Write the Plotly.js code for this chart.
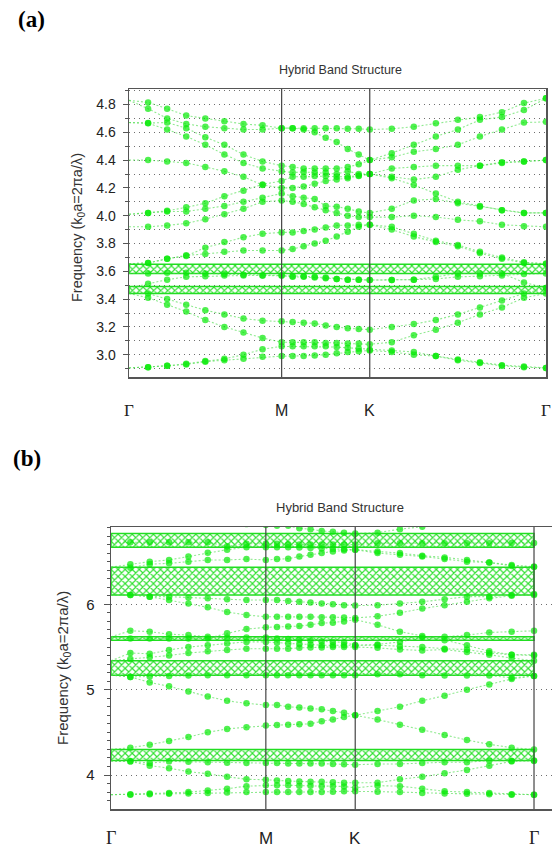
<!DOCTYPE html>
<html><head><meta charset="utf-8">
<script src="https://cdn.plot.ly/plotly-3.0.1.min.js"></script>
<style>html,body{margin:0;padding:0;overflow:hidden;background:#fff}</style>
</head><body>
<div id="chart" style="width:552px;height:851px"></div>
<script>
// ---- k-path (Γ → M → K → Γ), 8 steps per segment ----
const kTickLabels = ['Γ', 'M', 'K', 'Γ'];
const kTickPos = [0, 0.5774, 0.9107, 1.5774];
const kPos = [0, 0.0722, 0.1443, 0.2165, 0.2887, 0.3608, 0.4330, 0.5052, 0.5774,
  0.6190, 0.6607, 0.7024, 0.7440, 0.7857, 0.8274, 0.8690, 0.9107,
  0.9940, 1.0774, 1.1607, 1.2440, 1.3274, 1.4107, 1.4940, 1.5774];

// ---- panel (a) band gaps and bands ----
const gapsA = [[3.44, 3.49], [3.585, 3.65]];
const bandA1 = [2.905,2.91,2.92,2.93,2.95,2.96,2.97,2.985,2.99, 2.99,2.99,2.995,3.0,3.01,3.02,3.025,3.03, 3.02,3.0,2.99,2.96,2.94,2.92,2.91,2.905];
const bandA2 = [2.905,2.91,2.92,2.935,2.955,2.97,3.0,3.04,3.06, 3.06,3.06,3.06,3.06,3.055,3.05,3.045,3.035, 3.03,3.02,2.99,2.965,2.945,2.925,2.915,2.905];
const bandA3 = [3.44,3.41,3.36,3.31,3.25,3.20,3.16,3.12,3.09, 3.09,3.09,3.09,3.085,3.085,3.08,3.08,3.075, 3.09,3.14,3.18,3.23,3.29,3.34,3.41,3.44];
const bandA4 = [3.45,3.44,3.40,3.36,3.32,3.29,3.26,3.245,3.24, 3.235,3.23,3.225,3.21,3.20,3.19,3.185,3.18, 3.20,3.22,3.25,3.29,3.34,3.39,3.44,3.48];
const bandA5 = [3.585,3.585,3.59,3.59,3.585,3.58,3.575,3.57,3.57, 3.56,3.56,3.555,3.55,3.545,3.54,3.54,3.537, 3.537,3.54,3.545,3.56,3.565,3.57,3.58,3.585];
const bandA6 = [3.48,3.51,3.54,3.56,3.565,3.57,3.57,3.57,3.57, 3.565,3.565,3.56,3.555,3.545,3.54,3.54,3.537, 3.537,3.54,3.56,3.585,3.585,3.585,3.52,3.48];
const bandA7 = [3.655,3.66,3.69,3.715,3.725,3.74,3.75,3.75,3.75, 3.76,3.78,3.80,3.82,3.85,3.885,3.92,3.935, 3.90,3.85,3.81,3.78,3.73,3.69,3.66,3.655];
const bandA8 = [3.655,3.66,3.69,3.71,3.77,3.81,3.845,3.87,3.88, 3.88,3.89,3.90,3.915,3.93,3.93,3.935,3.935, 3.92,3.87,3.82,3.79,3.74,3.70,3.665,3.655];
const bandA9 = [3.92,3.92,3.93,3.945,3.975,4.01,4.05,4.10,4.11, 4.10,4.085,4.06,4.04,4.02,4.00,3.99,3.99, 3.99,4.0,3.99,3.97,3.96,3.935,3.925,3.92];
const bandA10 = [4.01,4.02,4.03,4.03,4.05,4.07,4.10,4.13,4.16, 4.14,4.13,4.12,4.07,4.065,4.05,4.03,4.02, 4.05,4.11,4.12,4.09,4.065,4.04,4.02,4.02];
const bandA11 = [4.01,4.02,4.035,4.06,4.09,4.14,4.18,4.225,4.25, 4.28,4.28,4.285,4.285,4.28,4.28,4.29,4.30, 4.27,4.22,4.16,4.10,4.07,4.04,4.02,4.02];
const bandA12 = [4.40,4.40,4.39,4.38,4.35,4.32,4.28,4.22,4.20, 4.20,4.21,4.23,4.25,4.26,4.27,4.285,4.30, 4.28,4.26,4.28,4.33,4.36,4.385,4.39,4.40];
const bandA13 = [4.67,4.667,4.67,4.63,4.565,4.51,4.44,4.39,4.36, 4.35,4.34,4.34,4.34,4.34,4.35,4.37,4.40, 4.42,4.46,4.48,4.51,4.57,4.62,4.67,4.675];
const bandA14 = [4.67,4.665,4.62,4.57,4.51,4.44,4.38,4.34,4.32, 4.31,4.315,4.31,4.31,4.30,4.32,4.30,4.30, 4.34,4.35,4.36,4.36,4.36,4.38,4.39,4.40];
const bandA15 = [4.83,4.815,4.77,4.72,4.70,4.68,4.66,4.65,4.63, 4.63,4.63,4.63,4.63,4.63,4.625,4.625,4.62, 4.625,4.64,4.665,4.69,4.71,4.745,4.81,4.845];
const bandA16 = [4.83,4.77,4.70,4.66,4.64,4.63,4.62,4.62,4.63, 4.63,4.62,4.60,4.56,4.53,4.48,4.44,4.40, 4.45,4.51,4.57,4.62,4.69,4.71,4.76,4.845];

// ---- panel (b) band gaps and bands ----
const gapsB = [[4.17, 4.30], [5.17, 5.34], [5.58, 5.62], [6.11, 6.435], [6.67, 6.83]];
const bandB1 = [3.77,3.77,3.775,3.78,3.785,3.79,3.795,3.80,3.80, 3.80,3.80,3.80,3.80,3.80,3.805,3.81,3.81, 3.805,3.80,3.79,3.785,3.78,3.775,3.77,3.77];
const bandB2 = [3.77,3.775,3.785,3.79,3.80,3.82,3.84,3.87,3.88, 3.88,3.88,3.875,3.875,3.87,3.87,3.865,3.85, 3.875,3.87,3.84,3.81,3.80,3.79,3.775,3.77];
const bandB3 = [4.165,4.16,4.11,4.08,4.04,4.015,3.98,3.95,3.945, 3.935,3.93,3.925,3.92,3.92,3.915,3.91,3.91, 3.91,3.95,3.98,4.02,4.06,4.11,4.16,4.17];
const bandB4 = [4.165,4.16,4.14,4.16,4.155,4.15,4.145,4.14,4.14, 4.14,4.135,4.135,4.135,4.135,4.13,4.125,4.12, 4.13,4.13,4.14,4.15,4.15,4.17,4.165,4.165];
const bandB5 = [4.30,4.32,4.355,4.40,4.445,4.50,4.54,4.56,4.58, 4.585,4.59,4.595,4.60,4.63,4.65,4.68,4.70, 4.65,4.59,4.53,4.47,4.41,4.36,4.32,4.30];
const bandB6 = [5.17,5.15,5.085,5.04,4.98,4.92,4.87,4.84,4.82, 4.82,4.80,4.79,4.78,4.77,4.75,4.73,4.70, 4.75,4.80,4.87,4.93,5.00,5.06,5.125,5.16];
const bandB7 = [5.17,5.15,5.155,5.16,5.165,5.17,5.17,5.17,5.17, 5.17,5.17,5.17,5.17,5.17,5.17,5.17,5.17, 5.18,5.18,5.17,5.165,5.165,5.165,5.14,5.16];
const bandB8 = [5.34,5.36,5.38,5.40,5.43,5.45,5.465,5.48,5.48, 5.48,5.48,5.49,5.495,5.495,5.50,5.50,5.50, 5.49,5.47,5.46,5.47,5.44,5.41,5.37,5.34];
const bandB9 = [5.34,5.43,5.42,5.465,5.50,5.52,5.54,5.56,5.56, 5.55,5.54,5.535,5.53,5.52,5.52,5.52,5.52, 5.52,5.51,5.50,5.48,5.47,5.43,5.41,5.41];
const bandB10 = [5.62,5.69,5.68,5.65,5.64,5.62,5.61,5.61,5.61, 5.60,5.595,5.585,5.575,5.565,5.56,5.555,5.52, 5.53,5.56,5.61,5.62,5.64,5.67,5.68,5.69];
const bandB11 = [5.62,5.60,5.60,5.60,5.60,5.60,5.66,5.71,5.73, 5.735,5.74,5.745,5.76,5.78,5.785,5.80,5.82, 5.76,5.68,5.63,5.58,5.52,5.45,5.41,5.40];
const bandB12 = [6.11,6.11,6.09,6.05,6.01,5.965,5.91,5.875,5.855, 5.855,5.855,5.855,5.855,5.85,5.85,5.845,5.84, 5.86,5.90,5.95,5.99,6.03,6.07,6.10,6.11];
const bandB13 = [6.11,6.11,6.09,6.09,6.08,6.07,6.06,6.05,6.05, 6.05,6.04,6.03,6.02,6.01,6.0,5.99,5.985, 5.99,6.01,6.03,6.06,6.09,6.09,6.11,6.12];
const bandB14 = [6.435,6.43,6.47,6.48,6.50,6.52,6.52,6.53,6.52, 6.53,6.535,6.56,6.58,6.60,6.62,6.63,6.64, 6.60,6.58,6.56,6.53,6.50,6.49,6.46,6.44];
const bandB15 = [6.435,6.47,6.50,6.52,6.56,6.605,6.64,6.67,6.67, 6.67,6.67,6.665,6.66,6.655,6.65,6.645,6.64, 6.62,6.60,6.57,6.55,6.52,6.49,6.45,6.44];
const bandB16 = [6.727,6.727,6.727,6.727,6.727,6.727,6.68,6.71,6.71, 6.71,6.705,6.70,6.70,6.70,6.70,6.70,6.70, 6.715,6.715,6.715,6.715,6.715,6.715,6.72,6.72];
const bandB17 = [7.2,7.15,7.1,7.05,7.0,6.98,6.96,6.94,6.93, 6.92,6.92,6.89,6.88,6.86,6.85,6.84,6.83, 6.84,6.88,6.91,6.95,7.0,7.05,7.1,7.15];

const bandsA = [bandA1,bandA2,bandA3,bandA4,bandA5,bandA6,bandA7,bandA8,bandA9,bandA10,bandA11,bandA12,bandA13,bandA14,bandA15,bandA16];
const bandsB = [bandB1,bandB2,bandB3,bandB4,bandB5,bandB6,bandB7,bandB8,bandB9,bandB10,bandB11,bandB12,bandB13,bandB14,bandB15,bandB16,bandB17];

const titleText = 'Hybrid Band Structure';
const yTitleText = 'Frequency (k<sub>0</sub>a=2πa/λ)';
const panelLabels = ['(a)', '(b)'];

// ---- styling ----
const W = 552, H = 851;
const green = '#06ea06';
const lineGreen = 'rgba(70,220,70,0.6)';
const markerSizes = kPos.map((_, i) => i === 0 ? 0 : 6.5);
const kEnd = kTickPos[kTickPos.length - 1];

const traces = [];
function addGaps(gaps, xa, ya) {
  gaps.forEach(([lo, hi]) => {
    traces.push({
      type: 'scatter', mode: 'lines', xaxis: xa, yaxis: ya,
      x: [kTickPos[0], kEnd, kEnd, kTickPos[0], kTickPos[0]],
      y: [lo, lo, hi, hi, lo],
      fill: 'toself', fillcolor: 'rgba(0,0,0,0)',
      fillpattern: {shape: 'x', fgcolor: '#2ee02e', bgcolor: '#ffffff', size: 5, solidity: 0.4},
      line: {color: '#22dd22', width: 1.5},
      hoverinfo: 'skip', showlegend: false
    });
  });
}
function addBands(bands, xa, ya) {
  bands.forEach(b => {
    traces.push({
      type: 'scatter', mode: 'lines+markers', xaxis: xa, yaxis: ya,
      x: kPos, y: b,
      line: {color: lineGreen, width: 1.1, dash: '2px,2px'},
      marker: {color: green, size: markerSizes, symbol: 'circle', line: {width: 0}},
      showlegend: false, hoverinfo: 'skip'
    });
  });
}
addGaps(gapsA, 'x', 'y');
addBands(bandsA, 'x', 'y');
addGaps(gapsB, 'x2', 'y2');
addBands(bandsB, 'x2', 'y2');

const frameColor = '#555';
const gridCol = '#6f6f6f';
const gridDash = '1px,4px';
const layout = {
  width: W, height: H,
  margin: {l: 0, r: 0, t: 0, b: 0},
  paper_bgcolor: '#fff', plot_bgcolor: '#fff',
  font: {family: '"Liberation Sans", Arial, sans-serif', color: '#222'},
  showlegend: false,
  xaxis: {
    domain: [129/W, 546/W], range: [0, kEnd], anchor: 'y',
    showline: true, mirror: true, linecolor: frameColor, linewidth: 1.5,
    showticklabels: false, ticks: '', showgrid: false, zeroline: false
  },
  yaxis: {
    domain: [1 - 377/H, 1 - 89/H], range: [2.8396, 4.9115], anchor: 'x',
    showline: true, mirror: true, linecolor: frameColor, linewidth: 1.5,
    tick0: 0, dtick: 0.2, tickformat: '.1f', ticks: 'outside', ticklen: 5, tickcolor: frameColor,
    ticklabelstandoff: 4,
    tickfont: {size: 14, color: '#222'},
    showgrid: true, gridcolor: gridCol, griddash: gridDash, gridwidth: 1, zeroline: false,
    minor: {dtick: 0.1, tick0: 0, ticks: 'outside', ticklen: 3, tickcolor: frameColor,
            showgrid: true, gridcolor: gridCol, griddash: gridDash, gridwidth: 1}
  },
  xaxis2: {
    domain: [111/W, 1], range: [0, 1.6445], anchor: 'y2',
    showline: true, mirror: true, linecolor: frameColor, linewidth: 1.5,
    showticklabels: false, ticks: '', showgrid: false, zeroline: false
  },
  yaxis2: {
    domain: [1 - 809/H, 1 - 527/H], range: [3.602, 6.906], anchor: 'x2',
    showline: true, mirror: false, linecolor: frameColor, linewidth: 1.5,
    tick0: 0, dtick: 1, ticks: 'outside', ticklen: 6, tickcolor: frameColor,
    ticklabelstandoff: 6,
    tickfont: {size: 15, color: '#222'},
    showgrid: true, gridcolor: gridCol, griddash: gridDash, gridwidth: 1, zeroline: false,
    minor: {dtick: 0.1, tick0: 0, ticks: 'outside', ticklen: 3, tickcolor: frameColor, showgrid: false}
  },
  shapes: [],
  annotations: []
};

// high-symmetry vertical lines
[1, 2].forEach(i => layout.shapes.push({type: 'line', xref: 'x', yref: 'y domain', x0: kTickPos[i], x1: kTickPos[i], y0: 0, y1: 1, line: {color: '#444', width: 1.2}, layer: 'above'}));
[1, 2, 3].forEach(i => layout.shapes.push({type: 'line', xref: 'x2', yref: 'y2 domain', x0: kTickPos[i], x1: kTickPos[i], y0: 0, y1: 1, line: {color: '#444', width: 1.2}, layer: 'above'}));

// k-point labels
function kFont(lbl, size) {
  return lbl === 'Γ' ? {family: '"Liberation Serif", "Times New Roman", serif', size: size + 1, color: '#222'}
                     : {family: '"Liberation Sans", Arial, sans-serif', size: size, color: '#222'};
}
kTickLabels.forEach((lbl, i) => {
  layout.annotations.push({xref: 'x', yref: 'paper', x: kTickPos[i], y: 1 - 411/H, text: lbl, showarrow: false, font: kFont(lbl, 16), xanchor: 'center', yanchor: 'middle'});
  layout.annotations.push({xref: 'x2', yref: 'paper', x: kTickPos[i], y: 1 - 838/H, text: lbl, showarrow: false, font: kFont(lbl, 17), xanchor: 'center', yanchor: 'middle'});
});

// titles
layout.annotations.push({xref: 'paper', yref: 'paper', x: 340/W, y: 1 - 70/H, text: titleText, showarrow: false, font: {size: 12.5, color: '#333'}, xanchor: 'center', yanchor: 'middle'});
layout.annotations.push({xref: 'paper', yref: 'paper', x: 340/W, y: 1 - 507/H, text: titleText, showarrow: false, font: {size: 13, color: '#333'}, xanchor: 'center', yanchor: 'middle'});
// y titles
layout.annotations.push({xref: 'paper', yref: 'paper', x: 78/W, y: 1 - 228/H, text: yTitleText, textangle: -90, showarrow: false, font: {size: 14.5, color: '#333'}, xanchor: 'center', yanchor: 'middle'});
layout.annotations.push({xref: 'paper', yref: 'paper', x: 63/W, y: 1 - 668/H, text: yTitleText, textangle: -90, showarrow: false, font: {size: 15, color: '#333'}, xanchor: 'center', yanchor: 'middle'});
// panel labels
layout.annotations.push({xref: 'paper', yref: 'paper', x: 31/W, y: 1 - 19/H, text: '<b>' + panelLabels[0] + '</b>', showarrow: false, font: {family: '"Liberation Serif", "Times New Roman", serif', size: 23, color: '#000'}, xanchor: 'center', yanchor: 'middle'});
layout.annotations.push({xref: 'paper', yref: 'paper', x: 27/W, y: 1 - 459/H, text: '<b>' + panelLabels[1] + '</b>', showarrow: false, font: {family: '"Liberation Serif", "Times New Roman", serif', size: 23, color: '#000'}, xanchor: 'center', yanchor: 'middle'});

Plotly.newPlot('chart', traces, layout, {staticPlot: true, displayModeBar: false});
</script>
</body></html>
